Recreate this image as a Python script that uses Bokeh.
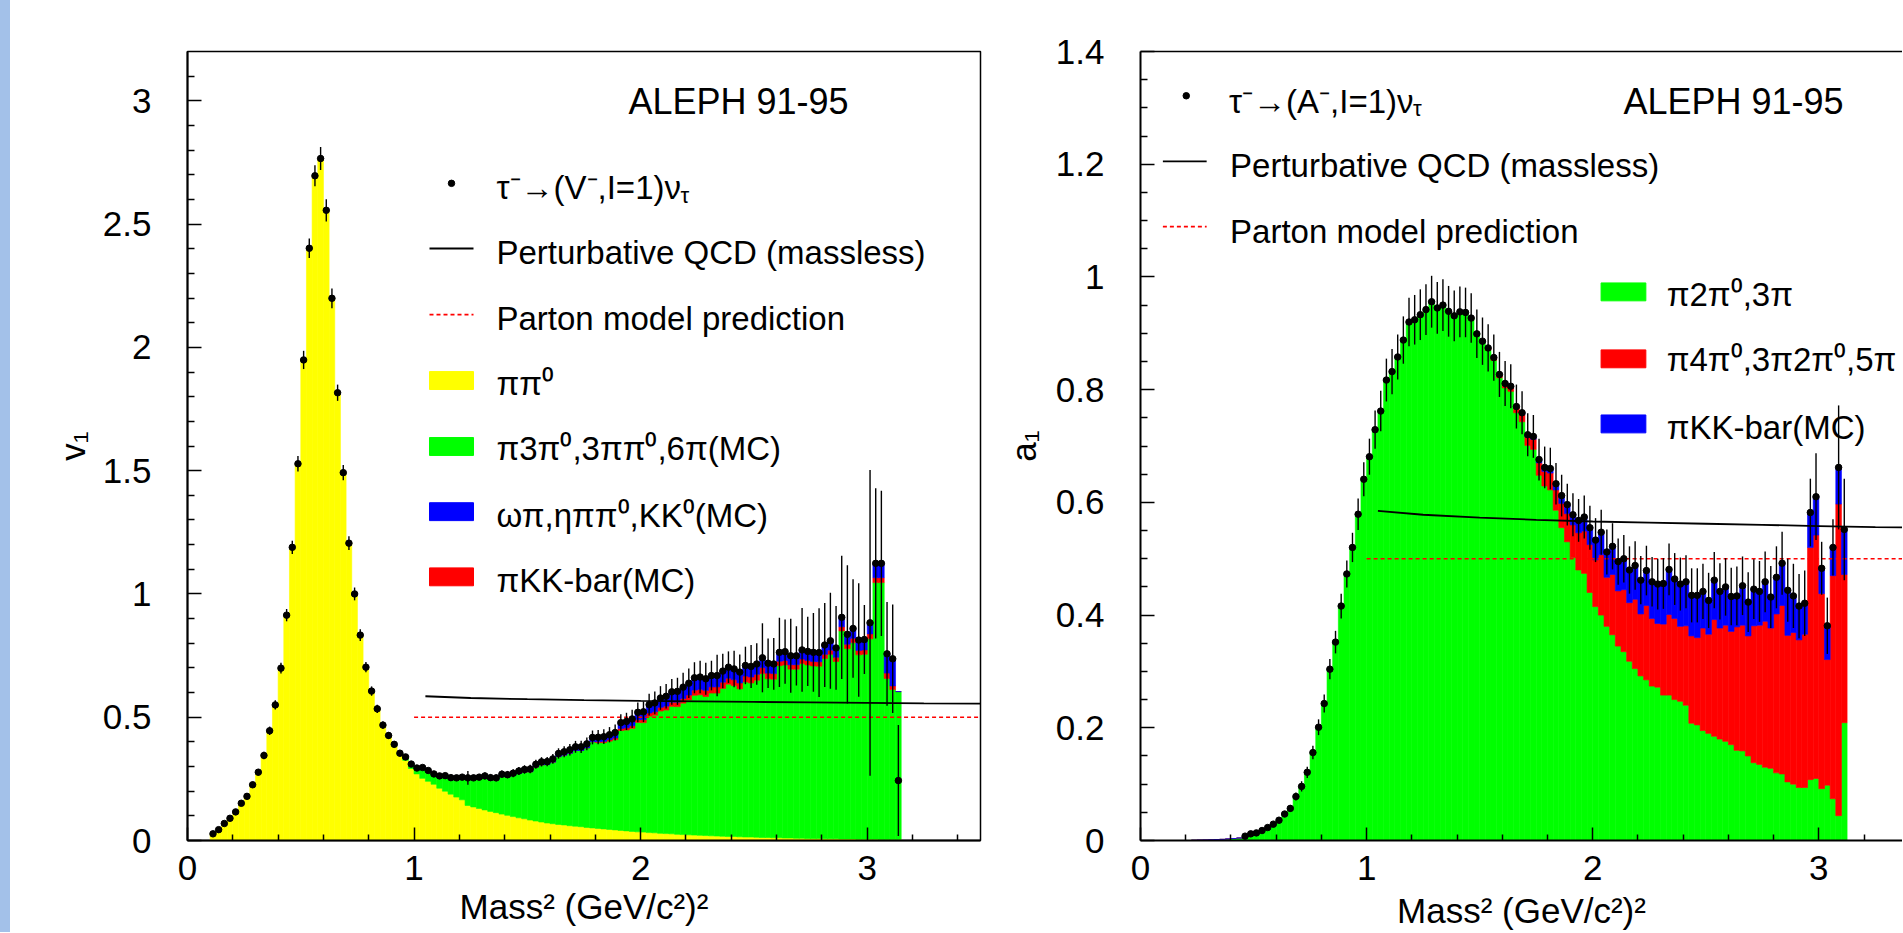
import numpy as np
from bokeh.plotting import figure
from bokeh.models import (ColumnDataSource, FixedTicker, NumeralTickFormatter,
                          LinearAxis, Range1d, Div)
from bokeh.layouts import row
from bokeh.embed import file_html
from bokeh.resources import INLINE
from bokeh.core.properties import value

FONT = "Liberation Sans"
BIN = 0.025

# ---------------- vector spectral function v1 (bins of 0.025 GeV^2) ----------------
v1_first_bin = 0.1125
v1_data = [0.027, 0.044, 0.069, 0.090, 0.116, 0.151, 0.179, 0.226, 0.277, 0.345,
           0.445, 0.550, 0.699, 0.914, 1.189, 1.528, 1.949, 2.402, 2.696, 2.766,
           2.556, 2.199, 1.816, 1.492, 1.206, 1.000, 0.833, 0.703, 0.606, 0.534,
           0.468, 0.426, 0.390, 0.354, 0.339, 0.310, 0.294, 0.296, 0.284, 0.270,
           0.262, 0.263, 0.255, 0.254, 0.257, 0.254, 0.254, 0.257, 0.262, 0.255,
           0.254, 0.269, 0.267, 0.273, 0.282, 0.288, 0.290, 0.309, 0.319, 0.320,
           0.331, 0.353, 0.360, 0.368, 0.380, 0.380, 0.392, 0.418, 0.419, 0.421,
           0.429, 0.438, 0.478, 0.483, 0.493, 0.520, 0.522, 0.551, 0.558, 0.578,
           0.585, 0.603, 0.605, 0.622, 0.638, 0.660, 0.663, 0.656, 0.669, 0.669,
           0.687, 0.703, 0.696, 0.683, 0.710, 0.706, 0.716, 0.741, 0.719, 0.716,
           0.763, 0.766, 0.749, 0.749, 0.773, 0.767, 0.763, 0.762, 0.793, 0.810,
           0.781, 0.905, 0.836, 0.860, 0.813, 0.815, 0.883, 1.124, 1.124, 0.757,
           0.737, 0.243]
v1_err = [0.006, 0.007, 0.008, 0.008, 0.009, 0.010, 0.011, 0.012, 0.013, 0.015,
          0.017, 0.019, 0.022, 0.025, 0.027, 0.031, 0.037, 0.040, 0.043, 0.047,
          0.045, 0.040, 0.033, 0.031, 0.028, 0.026, 0.024, 0.021, 0.019, 0.017,
          0.015, 0.014, 0.013, 0.012, 0.011, 0.011, 0.010, 0.010, 0.010, 0.010,
          0.011, 0.011, 0.012, 0.012, 0.013, 0.028, 0.013, 0.013, 0.014, 0.014,
          0.014, 0.015, 0.015, 0.016, 0.016, 0.017, 0.017, 0.018, 0.019, 0.019,
          0.020, 0.021, 0.022, 0.023, 0.024, 0.025, 0.026, 0.028, 0.029, 0.030,
          0.031, 0.032, 0.034, 0.035, 0.037, 0.040, 0.042, 0.044, 0.046, 0.048,
          0.050, 0.052, 0.055, 0.058, 0.060, 0.063, 0.066, 0.065, 0.060, 0.084,
          0.070, 0.064, 0.074, 0.071, 0.076, 0.087, 0.084, 0.140, 0.100, 0.105,
          0.140, 0.130, 0.150, 0.120, 0.170, 0.140, 0.160, 0.180, 0.170, 0.195,
          0.170, 0.250, 0.280, 0.200, 0.230, 0.140, 0.620, 0.305, 0.295, 0.210,
          0.220, 0.225]
v1_pipi0 = [0.027, 0.044, 0.069, 0.090, 0.116, 0.151, 0.179, 0.226, 0.277, 0.345,
            0.445, 0.550, 0.699, 0.914, 1.189, 1.528, 1.949, 2.402, 2.696, 2.766,
            2.556, 2.199, 1.816, 1.492, 1.206, 1.000, 0.833, 0.703, 0.606, 0.534,
            0.468, 0.424, 0.385, 0.345, 0.325, 0.292, 0.270, 0.252, 0.240, 0.228,
            0.212, 0.200, 0.188, 0.176, 0.165, 0.142, 0.136, 0.130, 0.124, 0.118,
            0.113, 0.107, 0.102, 0.097, 0.092, 0.088, 0.083, 0.079, 0.075, 0.071,
            0.068, 0.065, 0.063, 0.060, 0.058, 0.056, 0.053, 0.051, 0.049, 0.047,
            0.045, 0.043, 0.041, 0.039, 0.037, 0.035, 0.034, 0.032, 0.031, 0.029,
            0.028, 0.027, 0.025, 0.024, 0.023, 0.022, 0.021, 0.020, 0.019, 0.018,
            0.017, 0.016, 0.016, 0.015, 0.014, 0.014, 0.013, 0.012, 0.012, 0.011,
            0.011, 0.010, 0.010, 0.009, 0.009, 0.008, 0.008, 0.008, 0.007, 0.007,
            0.007, 0.006, 0.006, 0.006, 0.005, 0.005, 0.005, 0.005, 0.004, 0.004,
            0.004, 0.004]
v1_4pi = [0.0] * 31 + [0.002,
          0.005, 0.009, 0.014, 0.018,
          0.020, 0.040, 0.040, 0.037, 0.045, 0.058, 0.062, 0.072, 0.086, 0.106,
          0.112, 0.120, 0.131, 0.130, 0.133, 0.154, 0.156, 0.167, 0.180, 0.190,
          0.196, 0.219, 0.232, 0.237, 0.250, 0.275, 0.283, 0.294, 0.307, 0.309,
          0.323, 0.350, 0.348, 0.350, 0.358, 0.366, 0.405, 0.409, 0.418, 0.444,
          0.444, 0.472, 0.477, 0.496, 0.501, 0.517, 0.518, 0.533, 0.547, 0.567,
          0.570, 0.564, 0.579, 0.580, 0.600, 0.618, 0.612, 0.600, 0.629, 0.625,
          0.637, 0.665, 0.644, 0.643, 0.698, 0.702, 0.685, 0.686, 0.709, 0.704,
          0.700, 0.699, 0.731, 0.748, 0.719, 0.844, 0.772, 0.796, 0.748, 0.750,
          0.813, 1.041, 1.042, 0.653, 0.608, 0.600]
v1_kkbar = [0.0] * 68 + [
          0.004, 0.005, 0.006, 0.007, 0.008, 0.009, 0.010, 0.011, 0.012, 0.013,
          0.014, 0.015, 0.016, 0.017, 0.018, 0.019, 0.020, 0.021, 0.022, 0.025,
          0.025, 0.025, 0.025, 0.024, 0.024, 0.024, 0.024, 0.024, 0.024, 0.024,
          0.023, 0.023, 0.018, 0.018, 0.018, 0.018, 0.018, 0.018, 0.018, 0.018,
          0.017, 0.017, 0.017, 0.017, 0.018, 0.018, 0.018, 0.018, 0.020, 0.020,
          0.020, 0.022, 0.015, 0.0]
v1_omegapi = [0.0] * 36 + [
          0.004, 0.004, 0.004, 0.005, 0.005, 0.005, 0.005, 0.006, 0.006, 0.006,
          0.006, 0.007, 0.007, 0.007, 0.008, 0.008, 0.009, 0.009, 0.010, 0.010,
          0.011, 0.011, 0.012, 0.012, 0.013, 0.013, 0.014, 0.014, 0.015, 0.015,
          0.016, 0.017, 0.018, 0.019, 0.020, 0.022, 0.024, 0.026, 0.028, 0.030,
          0.032, 0.034, 0.036, 0.038, 0.040, 0.042, 0.044, 0.046, 0.048, 0.050,
          0.050, 0.047, 0.046, 0.046, 0.045, 0.045, 0.044, 0.044, 0.043, 0.043,
          0.042, 0.040, 0.040, 0.039, 0.036, 0.036, 0.036, 0.036, 0.037, 0.037,
          0.037, 0.037, 0.038, 0.038, 0.038, 0.038, 0.040, 0.040, 0.042, 0.042,
          0.045, 0.058, 0.058, 0.078, 0.110, 0.0]

# ---------------- axial-vector spectral function a1 ----------------
a1_first_point = 0.4625
a1_first_bin = 0.2375
a1_data = [0.0077, 0.0118, 0.0135, 0.0177, 0.023, 0.029, 0.036, 0.047, 0.057, 0.078,
           0.096, 0.121, 0.156, 0.201, 0.243, 0.304, 0.352, 0.416, 0.473, 0.520,
           0.579, 0.641, 0.681, 0.729, 0.762, 0.817, 0.832, 0.858, 0.888, 0.920,
           0.924, 0.933, 0.942, 0.956, 0.945, 0.950, 0.939, 0.931, 0.938, 0.937,
           0.927, 0.899, 0.886, 0.874, 0.857, 0.827, 0.811, 0.806, 0.770, 0.759,
           0.720, 0.717, 0.676, 0.662, 0.660, 0.633, 0.612, 0.596, 0.578, 0.568,
           0.574, 0.555, 0.533, 0.547, 0.512, 0.522, 0.495, 0.500, 0.480, 0.488,
           0.462, 0.479, 0.459, 0.455, 0.456, 0.481, 0.464, 0.455, 0.459, 0.435,
           0.435, 0.442, 0.426, 0.462, 0.442, 0.450, 0.433, 0.434, 0.452, 0.423,
           0.446, 0.442, 0.459, 0.432, 0.467, 0.492, 0.444, 0.434, 0.416, 0.421,
           0.582, 0.610, 0.483, 0.381, 0.520, 0.662, 0.552]
a1_err = [0.002, 0.002, 0.002, 0.003, 0.003, 0.004, 0.004, 0.005,
          0.006, 0.007, 0.009, 0.010, 0.012, 0.014, 0.016, 0.018, 0.020, 0.022,
          0.024, 0.026, 0.028, 0.030, 0.032, 0.034, 0.036, 0.038, 0.040,
          0.040, 0.042, 0.043, 0.044, 0.045, 0.045, 0.046, 0.046, 0.046, 0.045,
          0.045, 0.045, 0.044, 0.044, 0.043, 0.042,
          0.042, 0.041, 0.040, 0.040, 0.039, 0.039, 0.038, 0.038, 0.038, 0.037,
          0.037, 0.037, 0.037, 0.037, 0.037, 0.038, 0.038, 0.038, 0.039,
          0.039, 0.040, 0.040, 0.041, 0.041, 0.042, 0.042, 0.043, 0.043, 0.044,
          0.044, 0.045, 0.045, 0.046, 0.046, 0.047, 0.047, 0.048, 0.048, 0.049,
          0.049, 0.050, 0.050, 0.051, 0.051, 0.052, 0.052, 0.053, 0.053, 0.054,
          0.054, 0.055, 0.055, 0.056, 0.056, 0.057, 0.057, 0.058,
          0.060, 0.077, 0.047, 0.050, 0.050, 0.110, 0.090]
a1_3pi = [0.0005, 0.0008, 0.001, 0.0013, 0.0017, 0.002, 0.0028, 0.0035, 0.0045,
          0.0077, 0.0118, 0.0135, 0.0177, 0.023, 0.029, 0.036, 0.047, 0.057, 0.078,
          0.096, 0.121, 0.156, 0.201, 0.243, 0.304, 0.352, 0.416, 0.473, 0.520,
          0.579, 0.641, 0.681, 0.729, 0.762, 0.817, 0.832, 0.858, 0.888, 0.920,
          0.924, 0.933, 0.942, 0.956, 0.945, 0.950, 0.939, 0.931, 0.938, 0.937,
          0.927, 0.899, 0.886,
          0.870, 0.852, 0.821, 0.803, 0.797, 0.759, 0.743, 0.701, 0.694, 0.648,
          0.629, 0.622, 0.586, 0.555, 0.530, 0.502, 0.480, 0.474, 0.440,
          0.415, 0.400, 0.380, 0.365, 0.345, 0.335, 0.318, 0.305, 0.292, 0.285,
          0.274, 0.272, 0.258, 0.258, 0.250, 0.247, 0.240, 0.208, 0.205, 0.195,
          0.190, 0.185, 0.180, 0.176, 0.170, 0.160, 0.159, 0.150, 0.138, 0.135,
          0.130, 0.128, 0.120, 0.118, 0.104, 0.100, 0.094, 0.094, 0.108, 0.110,
          0.092, 0.098, 0.074, 0.044, 0.209]
a1_5pi = [0.0] * 52 + [
          0.004, 0.005, 0.006, 0.008, 0.009, 0.011, 0.013, 0.015, 0.018, 0.022,
          0.026, 0.030, 0.036, 0.043, 0.050, 0.058, 0.066, 0.075, 0.085,
          0.083, 0.107, 0.087, 0.107, 0.098, 0.110, 0.104, 0.123, 0.110, 0.132,
          0.120, 0.113, 0.126, 0.143, 0.144, 0.133, 0.141, 0.155, 0.155, 0.182,
          0.176, 0.207, 0.197, 0.206, 0.201, 0.219, 0.223, 0.213, 0.243, 0.247,
          0.259, 0.249, 0.282, 0.299, 0.260, 0.269, 0.262, 0.272, 0.412, 0.432,
          0.346, 0.223, 0.396, 0.553, 0.263]
a1_kkbar = [0.0] * 58 + [
          0.003, 0.004, 0.005, 0.006, 0.007, 0.008, 0.011, 0.014, 0.016, 0.018,
          0.022, 0.025, 0.030,
          0.035, 0.040, 0.045, 0.050, 0.052, 0.055, 0.058, 0.060, 0.060, 0.062,
          0.065, 0.070, 0.072, 0.080, 0.070, 0.075, 0.078, 0.072, 0.075, 0.065,
          0.060, 0.070, 0.065, 0.068, 0.062, 0.055, 0.070, 0.060, 0.065, 0.060,
          0.070, 0.055, 0.065, 0.075, 0.080, 0.065, 0.060, 0.055, 0.062, 0.068,
          0.045, 0.060, 0.050, 0.065, 0.080]

# ---------------- theory curves ----------------
qcd_s = [1.05, 1.25, 1.5, 1.75, 2.0, 2.25, 2.5, 2.75, 3.0, 3.25, 3.5]
qcd_val = [0.585, 0.578, 0.573, 0.569, 0.566, 0.564, 0.562, 0.560, 0.558, 0.556, 0.555]
parton_s = [1.0, 3.5]
parton_val = [0.5, 0.5]

YELLOW, GREEN, BLUE, RED = "#ffff00", "#00ff00", "#0000ff", "#ff0000"
X_TITLE = "Mass\u00b2 (GeV/c\u00b2)\u00b2"
TXT_DY = 9  # text baseline correction, pixels

def centers(first, n):
    return first + BIN * np.arange(n)

# ---------------- helpers ----------------
def style(p, xmaj, xmin, ymaj, ymin):
    p.grid.visible = False
    p.background_fill_color = "white"
    p.border_fill_color = "white"
    for ax in (p.xaxis[0], p.yaxis[0]):
        ax.axis_line_width = 2
        ax.axis_line_color = "black"
        ax.major_tick_out = 0
        ax.minor_tick_out = 0
        ax.major_tick_line_width = 1.5
        ax.minor_tick_line_width = 1.5
        ax.major_label_text_font = FONT
        ax.major_label_text_font_size = "35px"
        ax.major_label_text_color = "black"
        ax.axis_label_text_font = FONT
        ax.axis_label_text_font_size = "35px"
        ax.axis_label_text_font_style = "normal"
        ax.axis_label_text_color = "black"
    p.xaxis.major_tick_in = 13
    p.xaxis.minor_tick_in = 6
    p.yaxis.major_tick_in = 14
    p.yaxis.minor_tick_in = 7
    p.xaxis.ticker = FixedTicker(ticks=xmaj, minor_ticks=xmin)
    p.yaxis.ticker = FixedTicker(ticks=ymaj, minor_ticks=ymin)
    p.xaxis.formatter = NumeralTickFormatter(format="0")
    p.yaxis.formatter = NumeralTickFormatter(format="0.[0]")
    p.xaxis.major_label_standoff = 15
    p.yaxis.major_label_standoff = 36
    p.xaxis.axis_label = X_TITLE


def add_points(p, s, vals, errs):
    vals = np.array(vals)
    errs = np.array(errs)
    src = ColumnDataSource(dict(s=s, v=vals, lo=vals - errs, hi=vals + errs))
    p.segment(x0="s", y0="lo", x1="s", y1="hi", source=src, line_color="black", line_width=1.4)
    p.scatter(x="s", y="v", source=src, size=6.5, color="black")


def add_theory(p):
    p.line(qcd_s, qcd_val, line_color="black", line_width=1.8)
    p.line(parton_s, parton_val, line_color=RED, line_width=1.6, line_dash="4 3")


def add_text(p, x, y, t, size="33px", align="left"):
    p.text(x=[x], y=[y], text=[t], text_font=value(FONT), text_font_size=size,
           text_baseline="alphabetic", text_align=align, text_color="black")

H = 932

# ================= left panel =================
xL0, xL1, yLb, yLt = 187.0, 980.0, 844.0, 51.0
XL_END, YL_END = 3.5, 3.2
def lx(px): return (px - xL0) / (xL1 - xL0) * XL_END
def ly(py): return (yLb - py) / (yLb - yLt) * YL_END
def lty(py): return ly(py - TXT_DY)

left = figure(width=990, height=H, x_range=Range1d(0, XL_END), y_range=Range1d(0, YL_END),
              output_backend="svg", toolbar_location=None,
              min_border_left=177, min_border_right=20, min_border_top=51,
              min_border_bottom=H - 844)
left.outline_line_color = "black"
left.outline_line_width = 1.5

sL = centers(v1_first_bin, len(v1_data))
srcL = ColumnDataSource(dict(s=sL, pipi0=v1_pipi0, fourpi=v1_4pi, kkbar=v1_kkbar, omegapi=v1_omegapi))
left.vbar_stack(["pipi0", "fourpi", "kkbar", "omegapi"], x="s", width=BIN,
                color=[YELLOW, GREEN, RED, BLUE], line_width=0.6, source=srcL)
add_theory(left)
add_points(left, sL, v1_data, v1_err)

style(left, [0, 1, 2, 3],
      [round(v, 1) for v in np.arange(0.2, 3.45, 0.2) if abs(v - round(v)) > 1e-6],
      [0, 0.5, 1, 1.5, 2, 2.5, 3],
      [round(v, 1) for v in np.arange(0.1, 3.15, 0.1) if abs(v * 2 - round(v * 2)) > 1e-6])
left.yaxis.axis_label = "v\u2081"
left.yaxis.axis_label_standoff = 8
left.xaxis.axis_label_standoff = 4

# legend (left)
L_sym0, L_sym1 = lx(429), lx(473)
left.scatter([lx(451)], [ly(183.5)], size=6.5, color="black")
left.segment([L_sym0], [ly(249)], [L_sym1], [ly(249)], line_color="black", line_width=1.8)
left.segment([L_sym0], [ly(315.5)], [L_sym1], [ly(315.5)], line_color=RED, line_width=1.6, line_dash="4 3")
box_h = 18 / (yLb - yLt) * YL_END
for yc, col in zip([381.7, 448, 513.5, 579], [YELLOW, GREEN, BLUE, RED]):
    left.rect([(L_sym0 + L_sym1) / 2], [ly(yc)], width=L_sym1 - L_sym0, height=box_h,
              fill_color=col, line_color=col)
left_labels = ["\u03c4\u207b\u2192(V\u207b,I=1)\u03bd",
               "Perturbative QCD (massless)",
               "Parton model prediction",
               "\u03c0\u03c0\u2070",
               "\u03c03\u03c0\u2070,3\u03c0\u03c0\u2070,6\u03c0(MC)",
               "\u03c9\u03c0,\u03b7\u03c0\u03c0\u2070,KK\u2070(MC)",
               "\u03c0KK-bar(MC)"]
for t, yb in zip(left_labels, [197, 262.5, 328.5, 393.5, 459.5, 526, 591.5]):
    add_text(left, lx(496), lty(yb), t)
add_text(left, lx(680), lty(205), "\u03c4", size="22px")
add_text(left, lx(628), lty(110), "ALEPH 91-95", size="36px")

# ================= right panel =================
RW = 902
xR0, xR1, yRb, yRt = 1136.0, 1000.0 + RW, 840.0, 47.0
XR_END, YR_END = 3.37, 1.4
def rx(px): return (px - xR0) / (xR1 - xR0) * XR_END
def ry(py): return (yRb - py) / (yRb - yRt) * YR_END
def rty(py): return ry(py - TXT_DY)

right = figure(width=RW, height=H, x_range=Range1d(0, XR_END), y_range=Range1d(0, YR_END),
               output_backend="svg", toolbar_location=None,
               min_border_left=136, min_border_right=0, min_border_top=47,
               min_border_bottom=H - 840)
right.outline_line_color = None

sR = centers(a1_first_bin, len(a1_3pi))
srcR = ColumnDataSource(dict(s=sR, threepi=a1_3pi, fivepi=a1_5pi, kkbar=a1_kkbar))
right.vbar_stack(["threepi", "fivepi", "kkbar"], x="s", width=BIN,
                 color=[GREEN, RED, BLUE], line_width=0.6, source=srcR)
add_theory(right)
add_points(right, centers(a1_first_point, len(a1_data)), a1_data, a1_err)

style(right, [0, 1, 2, 3],
      [round(v, 1) for v in np.arange(0.2, 3.25, 0.2) if abs(v - round(v)) > 1e-6],
      [0, 0.2, 0.4, 0.6, 0.8, 1, 1.2, 1.4],
      [round(v, 2) for v in np.arange(0.05, 1.4, 0.05) if abs(v * 5 - round(v * 5)) > 1e-6])
right.yaxis.axis_label = "a\u2081"
right.yaxis.axis_label_standoff = 10
right.xaxis.axis_label_standoff = 8
top_ax = LinearAxis(ticker=FixedTicker(ticks=[]), axis_line_width=1.5, axis_line_color="black",
                    major_tick_in=0, major_tick_out=0, minor_tick_in=0, minor_tick_out=0,
                    major_label_text_font_size="0px")
right.add_layout(top_ax, "above")

# legend (right)
R_sym0, R_sym1 = rx(1158.5), rx(1202.5)
right.scatter([rx(1182)], [ry(91.5)], size=6.5, color="black")
right.segment([R_sym0], [ry(157.5)], [R_sym1], [ry(157.5)], line_color="black", line_width=1.8)
right.segment([R_sym0], [ry(223)], [R_sym1], [ry(223)], line_color=RED, line_width=1.6, line_dash="4 3")
add_text(right, rx(1225), rty(106), "\u03c4\u207b\u2192(A\u207b,I=1)\u03bd")
add_text(right, rx(1410), rty(113), "\u03c4", size="22px")
add_text(right, rx(1226), rty(171), "Perturbative QCD (massless)")
add_text(right, rx(1226), rty(236.5), "Parton model prediction")
add_text(right, rx(1621.5), rty(106), "ALEPH 91-95", size="36px")
B_x0, B_x1 = rx(1599), rx(1644)
box_hR = 18 / (yRb - yRt) * YR_END
right_labels = ["\u03c02\u03c0\u2070,3\u03c0",
                "\u03c04\u03c0\u2070,3\u03c02\u03c0\u2070,5\u03c0",
                "\u03c0KK-bar(MC)"]
for yc, yb, col, t in zip([288.6, 355.9, 421.3], [300.5, 366, 434], [GREEN, RED, BLUE], right_labels):
    right.rect([(B_x0 + B_x1) / 2], [ry(yc)], width=B_x1 - B_x0, height=box_hR,
               fill_color=col, line_color=col)
    add_text(right, rx(1665), rty(yb), t)

strip = Div(text="", width=10, height=H, margin=0, styles={"background-color": "#a3c1e9"})
page = row(strip, left, right)

open("out.html", "w").write(file_html(page, INLINE))
